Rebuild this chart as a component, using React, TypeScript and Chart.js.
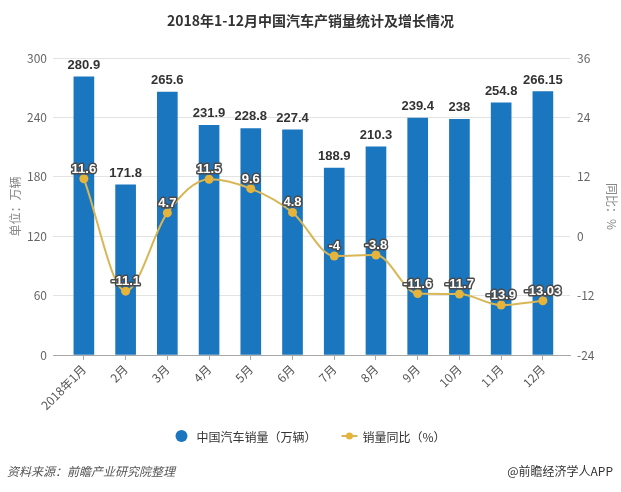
import { useEffect, useRef } from 'react';
import { Chart, registerables } from 'chart.js';

Chart.register(...registerables);

const chartTitle = '2018年1-12月中国汽车产销量统计及增长情况';
const months = ['2018年1月', '2月', '3月', '4月', '5月', '6月', '7月', '8月', '9月', '10月', '11月', '12月'];
const salesValues = [280.9, 171.8, 265.6, 231.9, 228.8, 227.4, 188.9, 210.3, 239.4, 238, 254.8, 266.15];
const growthValues = [11.6, -11.1, 4.7, 11.5, 9.6, 4.8, -4, -3.8, -11.6, -11.7, -13.9, -13.03];
const salesLabel = '中国汽车销量（万辆）';
const growthLabel = '销量同比（%）';
const leftAxisTitle = '单位：万辆';
const rightAxisTitle = '同比：%';
const leftRange = [0, 300, 60];
const rightRange = [-24, 36, 12];
const sourceText = '资料来源：前瞻产业研究院整理';
const brandText = '@前瞻经济学人APP';

const FONT = '"Noto Sans CJK SC", "Noto Sans", sans-serif';
const BAR_COLOR = '#1A76BF';
const LINE_COLOR = '#D9B655';
const POINT_COLOR = '#E6B43A';

const labelPlugin = {
  id: 'valueLabels',
  afterDatasetsDraw(chart: any) {
    const ctx = chart.ctx;
    ctx.save();
    ctx.font = 'bold 13px "Liberation Sans", Arial, sans-serif';
    ctx.textAlign = 'center';
    ctx.textBaseline = 'alphabetic';
    const barMeta = chart.getDatasetMeta(0);
    barMeta.data.forEach((el: any, i: number) => {
      ctx.fillStyle = '#333333';
      ctx.fillText(String(salesValues[i]), el.x, el.y - 8);
    });
    const lineMeta = chart.getDatasetMeta(1);
    ctx.lineJoin = 'round';
    lineMeta.data.forEach((el: any, i: number) => {
      const t = String(growthValues[i]);
      ctx.strokeStyle = '#4a4a4a';
      ctx.lineWidth = 3;
      ctx.strokeText(t, el.x, el.y - 6);
      ctx.fillStyle = '#ffffff';
      ctx.fillText(t, el.x, el.y - 6);
    });
    ctx.restore();
  },
  afterDraw(chart: any) {
    const ctx = chart.ctx;
    ctx.save();
    ctx.font = `12px ${FONT}`;
    ctx.textBaseline = 'middle';
    ctx.textAlign = 'left';
    const w1 = ctx.measureText(salesLabel).width;
    const w2 = ctx.measureText(growthLabel).width;
    const total = 12 + 9 + w1 + 25 + 16 + 5 + w2;
    let x = chart.width / 2 - total / 2;
    const y = 436;
    ctx.fillStyle = BAR_COLOR;
    ctx.beginPath();
    ctx.arc(x + 6, y, 6, 0, Math.PI * 2);
    ctx.fill();
    x += 21;
    ctx.fillStyle = '#333333';
    ctx.fillText(salesLabel, x, y + 1);
    x += w1 + 25;
    ctx.strokeStyle = LINE_COLOR;
    ctx.lineWidth = 2;
    ctx.beginPath();
    ctx.moveTo(x, y);
    ctx.lineTo(x + 16, y);
    ctx.stroke();
    ctx.fillStyle = POINT_COLOR;
    ctx.beginPath();
    ctx.arc(x + 8, y, 3.5, 0, Math.PI * 2);
    ctx.fill();
    x += 21;
    ctx.fillStyle = '#333333';
    ctx.fillText(growthLabel, x, y + 1);
    ctx.restore();
  },
};

export default function App() {
  const ref = useRef<HTMLCanvasElement>(null);
  useEffect(() => {
    if (!ref.current) return;
    const chart = new Chart(ref.current, {
      type: 'bar',
      data: {
        datasets: [
          {
            type: 'bar',
            label: salesLabel,
            data: salesValues.map((v, i) => ({ x: i, y: v })),
            backgroundColor: BAR_COLOR,
            barThickness: 20,
            yAxisID: 'y',
            order: 2,
          } as any,
          {
            type: 'line',
            label: growthLabel,
            data: growthValues.map((v, i) => ({ x: i, y: v })),
            borderColor: LINE_COLOR,
            borderWidth: 2,
            cubicInterpolationMode: 'monotone',
            pointRadius: 4.5,
            pointBackgroundColor: POINT_COLOR,
            pointBorderColor: POINT_COLOR,
            pointBorderWidth: 0,
            yAxisID: 'y1',
            order: 1,
          } as any,
        ],
      },
      options: {
        responsive: false,
        animation: false,
        events: [],
        layout: { padding: { left: 0, right: 0, top: 0, bottom: 77 } },
        plugins: {
          legend: { display: false },
          tooltip: { enabled: false },
          title: {
            display: true,
            text: chartTitle,
            color: '#333333',
            font: { family: FONT, size: 14, weight: 'bold' },
            padding: { top: 12, bottom: 29.2 },
          },
        },
        scales: {
          x: {
            type: 'linear',
            offset: false,
            min: -0.74,
            max: 11.65,
            afterFit: (s: any) => { s.height = 60; },
            ticks: {
              stepSize: 1,
              includeBounds: false,
              autoSkip: false,
              maxRotation: 45,
              minRotation: 45,
              padding: 2,
              color: '#555555',
              font: { family: FONT, size: 12 },
              callback: (v: any) => (Number.isInteger(v) && months[v] ? months[v] : ''),
            },
            grid: { offset: false, drawOnChartArea: false, drawTicks: true, tickLength: 5, color: '#A8A8A8' },
            border: { display: true, color: '#A8A8A8' },
          },
          y: {
            type: 'linear',
            position: 'left',
            min: leftRange[0],
            max: leftRange[1],
            afterFit: (s: any) => { s.width = 53; },
            ticks: { stepSize: leftRange[2], padding: 6, color: '#666666', font: { family: FONT, size: 12 } },
            grid: { color: '#E3E3E3', drawTicks: false },
            border: { display: false },
            title: {
              display: true,
              text: leftAxisTitle,
              color: '#888888',
              font: { family: FONT, size: 12 },
              padding: { top: 8, bottom: 0 },
            },
          },
          y1: {
            type: 'linear',
            position: 'right',
            min: rightRange[0],
            max: rightRange[1],
            afterFit: (s: any) => { s.width = 51; },
            ticks: { stepSize: rightRange[2], padding: 7, color: '#666666', font: { family: FONT, size: 12 } },
            grid: { drawOnChartArea: false, drawTicks: false },
            border: { display: false },
            title: {
              display: true,
              text: rightAxisTitle,
              color: '#888888',
              font: { family: FONT, size: 12 },
              padding: { top: 2, bottom: 0 },
            },
          },
        },
      } as any,
      plugins: [labelPlugin],
    });
    return () => chart.destroy();
  }, []);

  return (
    <div style={{ position: 'fixed', left: 0, top: 0, width: 621, height: 492, background: '#fff', fontFamily: FONT }}>
      <canvas ref={ref} width={621} height={492} style={{ width: 621, height: 492, display: 'block' }} />
      <div style={{ position: 'absolute', left: 7, top: 463, fontSize: 12, fontStyle: 'italic', color: '#555', lineHeight: '16px' }}>
        {sourceText}
      </div>
      <div style={{ position: 'absolute', right: 8, top: 463, fontSize: 12, color: '#333', lineHeight: '16px' }}>
        {brandText}
      </div>
    </div>
  );
}
